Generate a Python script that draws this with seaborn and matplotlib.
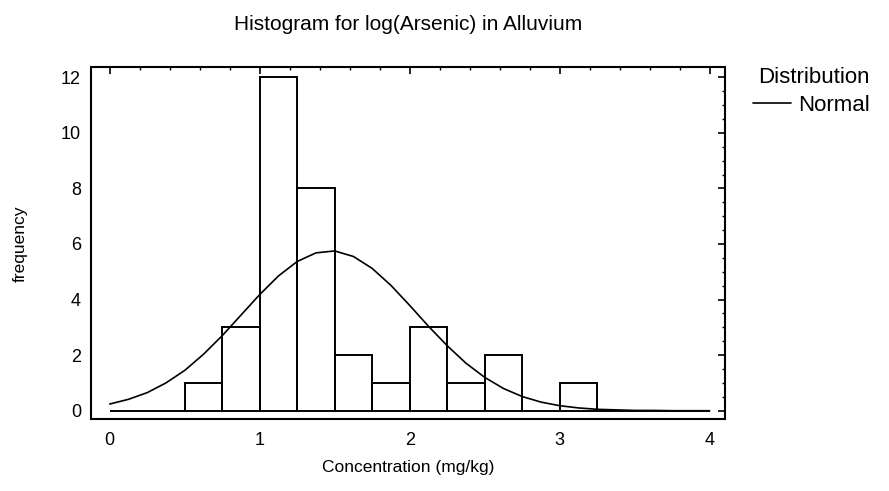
import numpy as np
import pandas as pd
import matplotlib
matplotlib.use("Agg")
import matplotlib.pyplot as plt
import seaborn as sns
from matplotlib.ticker import MultipleLocator
from matplotlib.lines import Line2D

# histogram of log(Arsenic), bins of width 0.25 from 0 to 4
bin_edges = [0, 0.25, 0.5, 0.75, 1.0, 1.25, 1.5, 1.75, 2.0, 2.25, 2.5, 2.75, 3.0, 3.25, 3.5, 3.75, 4.0]
bin_counts = [0, 0, 1, 3, 12, 8, 2, 1, 3, 1, 2, 0, 1, 0, 0, 0]

# fitted normal curve
curve_x = [0, 0.125, 0.25, 0.375, 0.5, 0.625, 0.75, 0.875, 1.0, 1.125, 1.25, 1.375,
           1.5, 1.625, 1.75, 1.875, 2.0, 2.125, 2.25, 2.375, 2.5, 2.625, 2.75, 2.875,
           3.0, 3.125, 3.25, 3.375, 3.5, 3.625, 3.75, 3.875, 4.0]
curve_y = [0.24, 0.41, 0.65, 1.0, 1.45, 2.03, 2.70, 3.44, 4.18, 4.85, 5.37, 5.68,
           5.75, 5.55, 5.12, 4.51, 3.79, 3.04, 2.34, 1.71, 1.20, 0.80, 0.51, 0.31,
           0.18, 0.10, 0.05, 0.03, 0.01, 0.01, 0.0, 0.0, 0.0]

centers = [(a + b) / 2 for a, b in zip(bin_edges[:-1], bin_edges[1:])]
hist_df = pd.DataFrame({"conc": centers, "count": bin_counts})
curve_df = pd.DataFrame({"conc": curve_x, "freq": curve_y})

sns.set_style("white")
plt.rcParams["font.family"] = ["Liberation Sans", "DejaVu Sans"]
plt.rcParams["text.color"] = "black"
plt.rcParams["axes.labelcolor"] = "black"
plt.rcParams["xtick.color"] = "black"
plt.rcParams["ytick.color"] = "black"

fig = plt.figure(figsize=(8.89, 4.91), dpi=100)
ax = fig.add_axes([0.102, 0.146, 0.714, 0.717])

sns.histplot(data=hist_df, x="conc", weights="count", bins=bin_edges,
             fill=False, element="bars", color="black", linewidth=1.4, ax=ax)
sns.lineplot(data=curve_df, x="conc", y="freq", color="black", linewidth=1.2, ax=ax)

ax.set_xlim(-0.127, 4.105)
ax.set_ylim(-0.31, 12.36)
ax.xaxis.set_major_locator(MultipleLocator(1))
ax.xaxis.set_minor_locator(MultipleLocator(0.2))
ax.yaxis.set_major_locator(MultipleLocator(2))
ax.yaxis.set_minor_locator(MultipleLocator(0.5))
ax.tick_params(which="both", direction="in", top=True, right=True, labelsize=13)
ax.tick_params(which="major", length=5, width=1.2)
ax.tick_params(which="minor", length=2.5, width=1.0)
ax.tick_params(axis="x", which="major", pad=9)
ax.tick_params(axis="y", which="major", pad=7)
for sp in ax.spines.values():
    sp.set_color("black")
    sp.set_linewidth(1.5)

ax.set_xlabel("Concentration (mg/kg)", fontsize=12.5, labelpad=8)
ax.set_ylabel("frequency", fontsize=12.5, labelpad=24)
ax.set_title("Histogram for log(Arsenic) in Alluvium", fontsize=15, pad=27)

handle = Line2D([], [], color="black", linewidth=1.2)
ax.legend([handle], ["Normal"], title="Distribution", frameon=False, fontsize=16,
          title_fontsize=16, loc="upper left", bbox_to_anchor=(1.03, 1.025),
          handlelength=1.7, handletextpad=0.31, borderaxespad=0, labelspacing=0.3,
          alignment="right")

fig.savefig("out.png", dpi=100)
